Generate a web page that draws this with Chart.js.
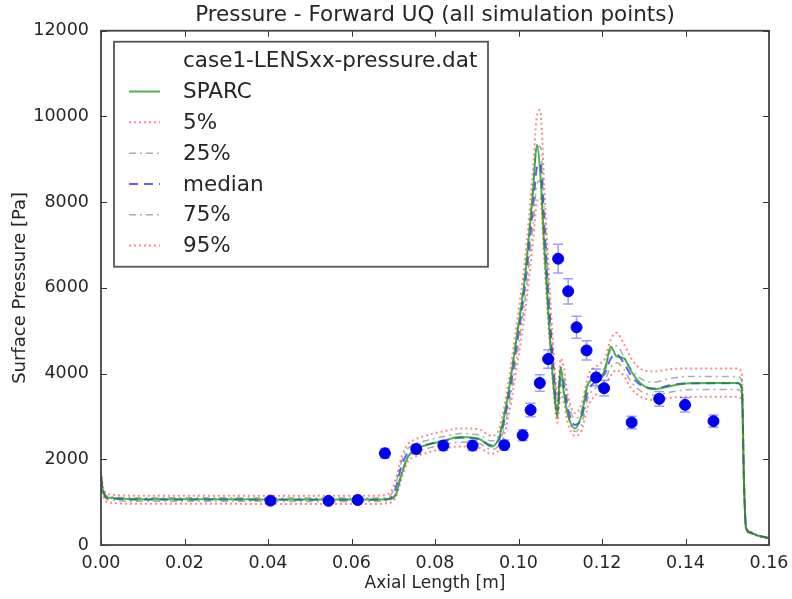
<!DOCTYPE html>
<html>
<head>
<meta charset="utf-8">
<script src="https://cdn.jsdelivr.net/npm/chart.js@4.4.0/dist/chart.umd.min.js"></script>
<style>
  body { margin: 0; background: #fff; }
</style>
</head>
<body>
<canvas id="pressure" width="792" height="599"></canvas>
<script>
// simulation grid, axial length [m]
const axialX = [0, 0.0005, 0.002, 0.01, 0.03, 0.05, 0.065, 0.069, 0.0705, 0.072, 0.0735, 0.075, 0.078, 0.082,
  0.086, 0.0905, 0.0935, 0.0955, 0.0975, 0.0995, 0.1015, 0.1035, 0.1044, 0.1052, 0.1062, 0.1074, 0.1085,
  0.1093, 0.1101, 0.1108, 0.1118, 0.1135, 0.115, 0.1167, 0.119, 0.1207, 0.1221, 0.1235, 0.1252, 0.127,
  0.1295, 0.1325, 0.136, 0.14, 0.147, 0.1525, 0.1535, 0.154, 0.1545, 0.1555, 0.157, 0.16];

// surface pressure [Pa]
const sparc = [1600, 1250, 1100, 1070, 1065, 1060, 1060, 1070, 1150, 1650, 2050, 2220, 2330, 2430,
  2520, 2480, 2300, 2550, 3500, 4800, 6200, 8300, 9340, 8700, 6900, 5000, 3600,
  3000, 4150, 3600, 3050, 2720, 3000, 3770, 3900, 4080, 4630, 4400, 4360, 4050,
  3750, 3640, 3700, 3770, 3780, 3780, 3660, 1500, 400, 290, 230, 160];
const median = [1600, 1250, 1090, 1060, 1060, 1055, 1055, 1080, 1300, 1850, 2150, 2250, 2340, 2430,
  2500, 2470, 2330, 2500, 3350, 4600, 6000, 7900, 8800, 8900, 7400, 5400, 3900,
  3150, 3950, 3750, 3200, 2800, 2950, 3600, 3850, 4000, 4350, 4450, 4250, 3950,
  3720, 3650, 3720, 3770, 3775, 3775, 3650, 1500, 400, 290, 230, 160];
const p25 = [1540, 1200, 1050, 1020, 1020, 1015, 1015, 1040, 1200, 1700, 2050, 2150, 2250, 2340,
  2400, 2370, 2230, 2380, 3150, 4350, 5700, 7500, 8400, 8500, 7000, 5100, 3700,
  2980, 3750, 3550, 3050, 2650, 2800, 3450, 3700, 3850, 4150, 4250, 4100, 3800,
  3580, 3500, 3560, 3620, 3630, 3630, 3510, 1450, 390, 280, 225, 155];
const p75 = [1660, 1300, 1130, 1100, 1100, 1095, 1095, 1130, 1400, 1950, 2250, 2350, 2440, 2530,
  2600, 2570, 2430, 2620, 3550, 4850, 6300, 8300, 9300, 9300, 7800, 5700, 4150,
  3330, 4150, 3950, 3350, 2950, 3100, 3750, 4000, 4150, 4550, 4650, 4400, 4100,
  3870, 3800, 3880, 3930, 3930, 3930, 3800, 1550, 410, 300, 235, 165];
const p5 = [1480, 1150, 990, 960, 960, 955, 955, 980, 1100, 1550, 1950, 2050, 2150, 2250,
  2300, 2270, 2130, 2250, 2950, 4100, 5400, 7100, 8000, 8100, 6600, 4800, 3500,
  2850, 3550, 3350, 2850, 2550, 2650, 3250, 3550, 3700, 3950, 4080, 3950, 3650,
  3450, 3380, 3430, 3460, 3460, 3460, 3350, 1400, 380, 270, 220, 150];
const p95 = [1720, 1350, 1180, 1150, 1150, 1150, 1150, 1200, 1500, 2050, 2350, 2450, 2560, 2650,
  2720, 2700, 2550, 2750, 3750, 5100, 6600, 8800, 10000, 10150, 8300, 6100, 4400,
  3500, 4350, 4150, 3500, 3080, 3250, 3950, 4200, 4350, 4800, 4950, 4700, 4350,
  4100, 4050, 4100, 4120, 4120, 4120, 4000, 1600, 420, 310, 240, 170];

// measurements (case1-LENSxx-pressure.dat)
const expX = [0.0406, 0.0545, 0.0615, 0.068, 0.0755, 0.082, 0.089, 0.0966, 0.101, 0.1029, 0.1051,
  0.1071, 0.1095, 0.1119, 0.1139, 0.1163, 0.1186, 0.1205, 0.1271, 0.1337, 0.1399, 0.1467];
const expP = [1035, 1030, 1050, 2140, 2240, 2320, 2320, 2330, 2560, 3150, 3780,
  4340, 6680, 5920, 5080, 4540, 3910, 3660, 2860, 3410, 3270, 2890];
const expErr = [50, 50, 55, 110, 110, 115, 115, 115, 130, 160, 190,
  215, 335, 295, 255, 225, 195, 185, 145, 170, 165, 145];

const legendOrder = ['case1-LENSxx-pressure.dat', 'SPARC', '5%', '25%', 'median', '75%', '95%'];

const FONT = 'DejaVu Sans';
const TXT = '#262626';

function pairs(xs, ys) {
  return xs.map((x, i) => ({x: x, y: ys[i]}));
}

function line(label, ys, color, dash, width) {
  return {
    type: 'line', label: label, data: pairs(axialX, ys),
    borderColor: color, borderDash: dash, borderWidth: width,
    pointRadius: 0, fill: false, cubicInterpolationMode: 'monotone'
  };
}

const errorBars = {
  id: 'errorBars',
  beforeDatasetDraw(chart, args) {
    if (args.index !== 0) return;
    const {ctx, scales} = chart;
    ctx.save();
    ctx.strokeStyle = 'rgba(40,40,255,0.45)';
    ctx.lineWidth = 1.5;
    expX.forEach((x, i) => {
      const px = scales.x.getPixelForValue(x);
      const top = scales.y.getPixelForValue(expP[i] + expErr[i]);
      const bot = scales.y.getPixelForValue(expP[i] - expErr[i]);
      ctx.beginPath();
      ctx.moveTo(px, top); ctx.lineTo(px, bot);
      ctx.moveTo(px - 5, top); ctx.lineTo(px + 5, top);
      ctx.moveTo(px - 5, bot); ctx.lineTo(px + 5, bot);
      ctx.stroke();
    });
    ctx.restore();
  }
};

const frameTicks = {
  id: 'frameTicks',
  afterDatasetsDraw(chart) {
    const {ctx, chartArea: a, scales} = chart;
    ctx.save();
    ctx.strokeStyle = '#333';
    ctx.lineWidth = 1;
    ctx.beginPath();
    scales.x.ticks.forEach(t => {
      const px = Math.round(scales.x.getPixelForValue(t.value)) + 0.5;
      ctx.moveTo(px, a.bottom); ctx.lineTo(px, a.bottom - 6);
      ctx.moveTo(px, a.top); ctx.lineTo(px, a.top + 6);
    });
    scales.y.ticks.forEach(t => {
      const py = Math.round(scales.y.getPixelForValue(t.value)) + 0.5;
      ctx.moveTo(a.left, py); ctx.lineTo(a.left + 6, py);
      ctx.moveTo(a.right, py); ctx.lineTo(a.right - 6, py);
    });
    ctx.stroke();
    ctx.strokeStyle = '#444';
    ctx.lineWidth = 1.8;
    ctx.strokeRect(a.left, a.top, a.right - a.left, a.bottom - a.top);
    ctx.restore();
  }
};

const boxLegend = {
  id: 'boxLegend',
  afterDatasetsDraw(chart) {
    const {ctx, chartArea: a} = chart;
    const x0 = a.left + 13, y0 = a.top + 11, w = 374, h = 225, row = 30.8;
    ctx.save();
    ctx.fillStyle = '#fff';
    ctx.fillRect(x0, y0, w, h);
    ctx.strokeStyle = '#555';
    ctx.lineWidth = 1.8;
    ctx.strokeRect(x0, y0, w, h);
    ctx.font = '21.5px "' + FONT + '"';
    ctx.textBaseline = 'middle';
    ctx.fillStyle = TXT;
    legendOrder.forEach((name, i) => {
      const cy = y0 + 19 + i * row;
      const ds = chart.data.datasets.find(d => d.label === name);
      if (ds && ds.type === 'line') {
        ctx.strokeStyle = ds.borderColor;
        ctx.lineWidth = ds.borderWidth;
        ctx.setLineDash(ds.borderDash);
        ctx.beginPath();
        ctx.moveTo(x0 + 15, cy); ctx.lineTo(x0 + 46, cy);
        ctx.stroke();
        ctx.setLineDash([]);
      }
      ctx.fillText(name, x0 + 69, cy + 1);
    });
    ctx.restore();
  }
};

new Chart(document.getElementById('pressure'), {
  type: 'line',
  data: {
    datasets: [
      {
        type: 'scatter', label: 'case1-LENSxx-pressure.dat', data: pairs(expX, expP),
        backgroundColor: '#0000f0', borderColor: '#0000f0', pointRadius: 5.5, pointHoverRadius: 5.5
      },
      line('SPARC', sparc, 'rgba(20,150,20,0.75)', [], 2),
      line('5%', p5, 'rgba(255,40,40,0.55)', [2, 3], 2),
      line('25%', p25, 'rgba(90,90,90,0.5)', [7, 4, 2, 4], 1.5),
      line('median', median, 'rgba(30,30,255,0.7)', [9, 6], 2),
      line('75%', p75, 'rgba(90,90,90,0.5)', [7, 4, 2, 4], 1.5),
      line('95%', p95, 'rgba(255,40,40,0.55)', [2, 3], 2)
    ]
  },
  options: {
    responsive: false,
    animation: false,
    layout: {padding: {left: 0, right: 23, top: 0, bottom: 0}},
    plugins: {
      legend: {display: false},
      tooltip: {enabled: false},
      title: {
        display: true,
        fullSize: false,
        text: 'Pressure - Forward UQ (all simulation points)',
        color: TXT,
        font: {family: FONT, size: 21.5, weight: 'normal', lineHeight: 1.15},
        padding: {top: 3, bottom: 3}
      }
    },
    scales: {
      x: {
        type: 'linear', min: 0, max: 0.16,
        ticks: {stepSize: 0.02, color: TXT, font: {family: FONT, size: 17.5}, padding: 0,
          callback: v => v.toFixed(2), maxRotation: 0},
        grid: {display: false},
        border: {display: false},
        title: {display: true, text: 'Axial Length [m]', color: TXT,
          font: {family: FONT, size: 17}, padding: {top: 2, bottom: 5}},
        afterFit: s => { s.height = 54; }
      },
      y: {
        min: 0, max: 12000,
        ticks: {stepSize: 2000, color: TXT, font: {family: FONT, size: 17.5}, padding: 4,
          callback: v => String(v)},
        grid: {display: false},
        border: {display: false},
        title: {display: true, text: 'Surface Pressure [Pa]', color: TXT,
          font: {family: FONT, size: 18}, padding: {top: 10, bottom: 0}},
        afterFit: s => { s.width = 101; }
      }
    }
  },
  plugins: [errorBars, frameTicks, boxLegend]
});
</script>
</body>
</html>
